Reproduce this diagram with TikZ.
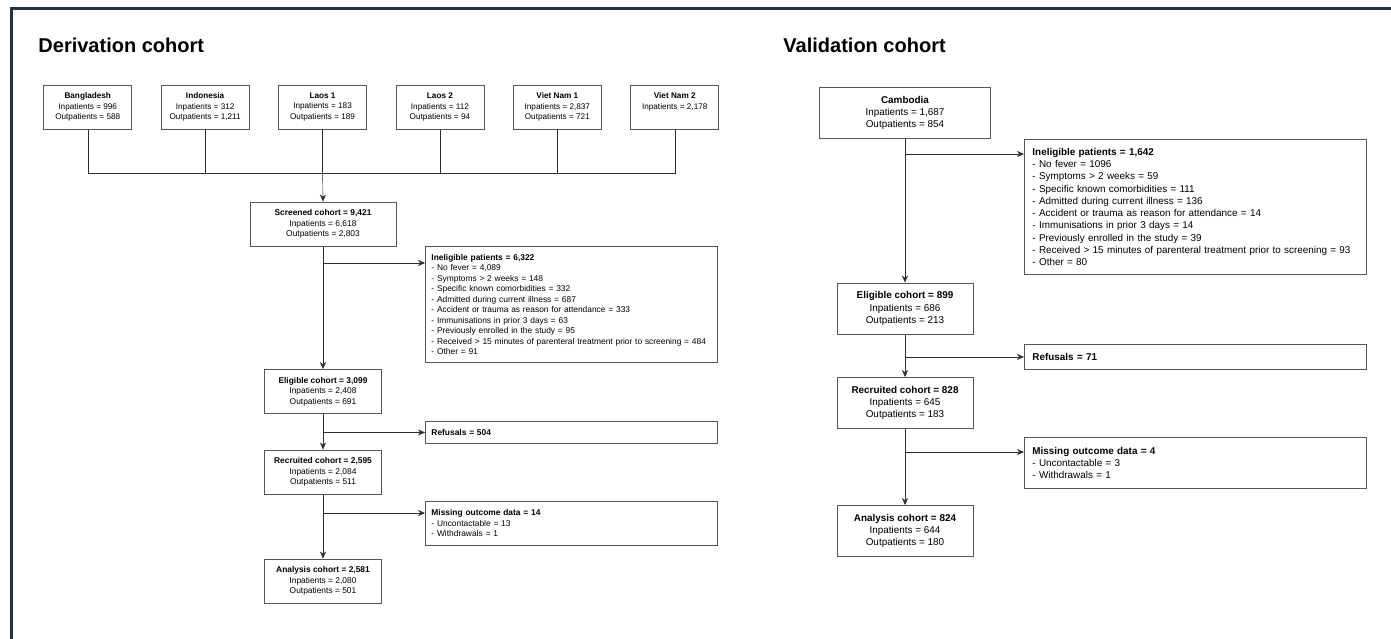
\documentclass[tikz,border=0pt]{standalone}
\usepackage{fontspec}
\setmainfont{Liberation Sans}
\usetikzlibrary{arrows.meta,backgrounds,calc}

\definecolor{framecol}{RGB}{33,52,64}
\definecolor{boxgray}{RGB}{85,85,85}
\definecolor{linegray}{RGB}{45,45,45}

\newcommand{\sitetxt}{\fontsize{8.2}{10.5}\selectfont}
\newcommand{\smalltxt}{\fontsize{8.4}{10.5}\selectfont}
\newcommand{\bigtxt}{\fontsize{9.9}{12.3}\selectfont}

\begin{document}
\begin{tikzpicture}[x=1pt,y=-1pt,line width=0.9pt]
    % `site' is used for the six derivation sites on top.
    % `cohortL' / `cohortR' are the centred count boxes (left / right flow).
    % `reasonL' / `reasonR' hold the left-aligned exclusion lists.
    \tikzstyle{site} = [draw=boxgray,fill=white,minimum width=88pt,minimum height=44pt,inner sep=0pt,align=center,font=\sitetxt]
    \tikzstyle{cohortL} = [draw=boxgray,fill=white,minimum width=117pt,minimum height=44pt,inner sep=0pt,align=center,font=\smalltxt]
    \tikzstyle{reasonL} = [draw=boxgray,fill=white,anchor=north west,text width=280pt,inner xsep=6pt,inner ysep=0pt,align=left,font=\smalltxt]
    \tikzstyle{cohortR} = [draw=boxgray,fill=white,minimum width=136pt,minimum height=51pt,inner sep=0pt,align=center,font=\bigtxt]
    \tikzstyle{reasonR} = [draw=boxgray,fill=white,anchor=north west,text width=326pt,inner xsep=8pt,inner ysep=0pt,align=left,font=\bigtxt]
    \tikzstyle{arrow} = [draw=linegray,-{Stealth[length=7pt,width=6pt]}]
    \tikzstyle{heading} = [anchor=base west,inner sep=0pt,font=\fontsize{20}{24}\selectfont\bfseries]
    %
    \useasboundingbox (0,0) rectangle (1391,639);
    \draw[framecol,line width=3pt] (11.5,639) -- (11.5,8.5) -- (1391,8.5);
    %
    \node[heading] (derivT) at (38,53) {Derivation cohort};
    \node[heading] (validT) at (783,53) {Validation cohort};
    %
    \matrix[column sep=28.5pt,inner sep=0pt] (sites) at (381.25,107) {
      \node[site] (bd) {\textbf{Bangladesh}\\Inpatients = 996\\Outpatients = 588}; &
      \node[site] (id) {\textbf{Indonesia}\\Inpatients = 312\\Outpatients = 1,211}; &
      \node[site] (la1) {\textbf{Laos 1}\\Inpatients = 183\\Outpatients = 189}; &
      \node[site] (la2) {\textbf{Laos 2}\\Inpatients = 112\\Outpatients = 94}; &
      \node[site] (vn1) {\textbf{Viet Nam 1}\\Inpatients = 2,837\\Outpatients = 721}; &
      \node[site] (vn2) {\textbf{Viet Nam 2}\\Inpatients = 2,178\\\phantom{Outpatients = 0}}; \\
    };
    \coordinate (bus) at (0,173);
    %
    % Derivation flow.
    \node[cohortL,minimum width=146pt] (screened) at (323,224) {\textbf{Screened cohort = 9,421}\\Inpatients = 6,618\\Outpatients = 2,803};
    \node[reasonL,minimum height=116pt] (ineligL) at (425,246) {\textbf{Ineligible patients = 6,322}\\
      - No fever = 4,089\\
      - Symptoms > 2 weeks = 148\\
      - Specific known comorbidities = 332\\
      - Admitted during current illness = 687\\
      - Accident or trauma as reason for attendance = 333\\
      - Immunisations in prior 3 days = 63\\
      - Previously enrolled in the study = 95\\
      - Received > 15 minutes of parenteral treatment prior to screening = 484\\
      - Other = 91};
    \node[cohortL] (eligL) at (323,391.5) {\textbf{Eligible cohort = 3,099}\\Inpatients = 2,408\\Outpatients = 691};
    \node[reasonL,minimum height=22pt] (refL) at (425,421) {\textbf{Refusals = 504}};
    \node[cohortL] (recrL) at (323,472) {\textbf{Recruited cohort = 2,595}\\Inpatients = 2,084\\Outpatients = 511};
    \node[reasonL,minimum height=44pt] (missL) at (425,501) {\textbf{Missing outcome data = 14}\\- Uncontactable = 13\\- Withdrawals = 1};
    \node[cohortL] (anaL) at (323,581) {\textbf{Analysis cohort = 2,581}\\Inpatients = 2,080\\Outpatients = 501};
    \coordinate (inL) at ($(ineligL.north west)+(0,17)$);
    \coordinate (msL) at ($(missL.north west)+(0,12)$);
    %
    % Validation flow.
    \node[cohortR,minimum width=171pt] (camb) at (905,113) {\textbf{Cambodia}\\Inpatients = 1,687\\Outpatients = 854};
    \node[reasonR,minimum height=135pt] (ineligR) at (1024,139) {\textbf{Ineligible patients = 1,642}\\
      - No fever = 1096\\
      - Symptoms > 2 weeks = 59\\
      - Specific known comorbidities = 111\\
      - Admitted during current illness = 136\\
      - Accident or trauma as reason for attendance = 14\\
      - Immunisations in prior 3 days = 14\\
      - Previously enrolled in the study = 39\\
      - Received > 15 minutes of parenteral treatment prior to screening = 93\\
      - Other = 80};
    \node[cohortR] (eligR) at (905,308.5) {\textbf{Eligible cohort = 899}\\Inpatients = 686\\Outpatients = 213};
    \node[reasonR,minimum height=25pt] (refR) at (1024,344) {\textbf{Refusals = 71}};
    \node[cohortR] (recrR) at (905,403) {\textbf{Recruited cohort = 828}\\Inpatients = 645\\Outpatients = 183};
    \node[reasonR,minimum height=51pt] (missR) at (1024,437) {\textbf{Missing outcome data = 4}\\- Uncontactable = 3\\- Withdrawals = 1};
    \node[cohortR] (anaR) at (905,531) {\textbf{Analysis cohort = 824}\\Inpatients = 644\\Outpatients = 180};
    \coordinate (inR) at ($(ineligR.north west)+(0,15)$);
    \coordinate (msR) at ($(missR.north west)+(0,15)$);
    %
    \begin{pgfonlayer}{background}
        % Draw lines.
        \draw[linegray] (bd.south) -- (bd.south |- bus) -- (vn2.south |- bus) -- (vn2.south);
        \foreach \s in {id,la1,la2,vn1}
            \draw[linegray] (\s.south) -- (\s.south |- bus);
        \draw[arrow] (la1.south |- bus) -- (screened.north);
        \draw[arrow] (screened) -- (eligL);
        \draw[arrow] (eligL) -- (recrL);
        \draw[arrow] (recrL) -- (anaL);
        \draw[arrow] (screened.south |- inL) -- (inL);
        \draw[arrow] (eligL.south |- refL.west) -- (refL.west);
        \draw[arrow] (recrL.south |- msL) -- (msL);
        % Validation lines.
        \draw[arrow] (camb) -- (eligR);
        \draw[arrow] (eligR) -- (recrR);
        \draw[arrow] (recrR) -- (anaR);
        \draw[arrow] (camb.south |- inR) -- (inR);
        \draw[arrow] (eligR.south |- refR.west) -- (refR.west);
        \draw[arrow] (recrR.south |- msR) -- (msR);
    \end{pgfonlayer}
\end{tikzpicture}
\end{document}
